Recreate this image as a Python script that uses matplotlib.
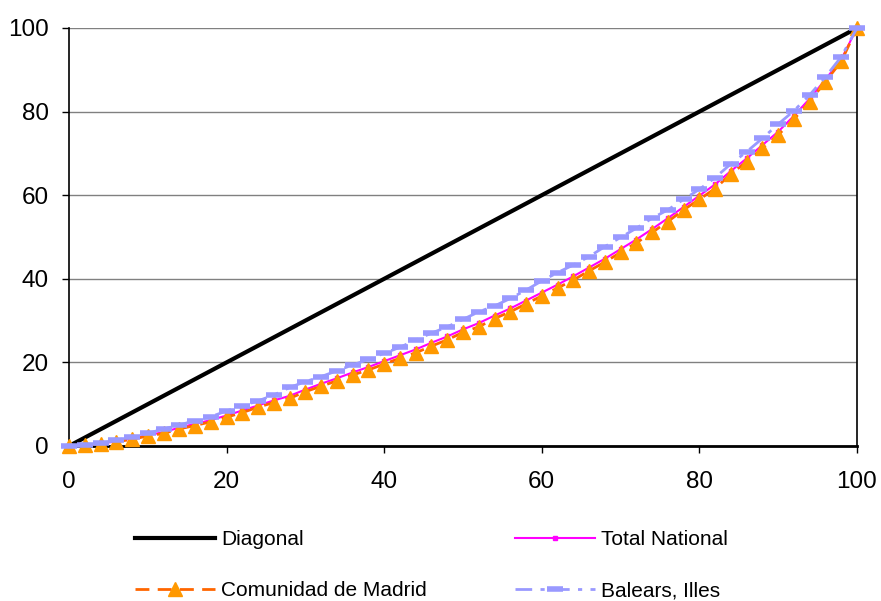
import matplotlib
matplotlib.use("Agg")
import matplotlib.pyplot as plt

plt.rcParams['font.family'] = ['Liberation Sans', 'DejaVu Sans']

# cumulative population share (%)
pct = [0, 2, 4, 6, 8, 10, 12, 14, 16, 18, 20, 22, 24, 26, 28, 30, 32, 34, 36, 38,
       40, 42, 44, 46, 48, 50, 52, 54, 56, 58, 60, 62, 64, 66, 68, 70, 72, 74, 76, 78,
       80, 82, 84, 86, 88, 90, 92, 94, 96, 98, 100]

diagonal = [0, 2, 4, 6, 8, 10, 12, 14, 16, 18, 20, 22, 24, 26, 28, 30, 32, 34, 36, 38,
            40, 42, 44, 46, 48, 50, 52, 54, 56, 58, 60, 62, 64, 66, 68, 70, 72, 74, 76, 78,
            80, 82, 84, 86, 88, 90, 92, 94, 96, 98, 100]

total_national = [0, 0.2, 0.6, 1.1, 1.8, 2.6, 3.3, 4.4, 5.3, 6.2, 7.3, 8.5, 9.7, 10.9, 12.0,
                  13.5, 14.9, 16.2, 17.6, 18.9, 20.3, 21.7, 23.1, 24.7, 26.2, 27.9, 29.4,
                  31.2, 32.9, 34.8, 36.7, 38.6, 40.6, 42.7, 44.8, 47.1, 49.4, 51.9, 54.5,
                  57.2, 59.9, 62.6, 65.8, 68.8, 72.0, 75.2, 79.0, 83.1, 87.7, 92.5, 100]

madrid = [0, 0.2, 0.5, 1.0, 1.6, 2.4, 3.0, 4.1, 4.9, 5.8, 6.9, 8.0, 9.3, 10.4, 11.4, 13.0,
          14.3, 15.6, 17.0, 18.2, 19.6, 21.0, 22.3, 23.9, 25.4, 27.2, 28.5, 30.5, 32.1,
          34.0, 35.9, 37.8, 39.7, 41.9, 44.0, 46.3, 48.6, 51.1, 53.7, 56.5, 59.0, 61.6,
          65.1, 68.0, 71.2, 74.4, 78.2, 82.4, 87.2, 92.0, 100]

balears = [0, 0.2, 0.6, 1.4, 2.1, 3.0, 4.1, 5.0, 6.1, 7.0, 8.4, 9.6, 10.8, 12.2, 14.0,
           15.4, 16.6, 18.0, 19.4, 20.7, 22.2, 23.6, 25.4, 27.0, 28.5, 30.3, 32.1, 33.5,
           35.3, 37.3, 39.5, 41.5, 43.3, 45.3, 47.7, 49.9, 52.1, 54.5, 56.5, 59.0, 61.4,
           64.2, 67.5, 70.4, 73.6, 77.0, 80.2, 84.0, 88.3, 93.1, 100]

fig = plt.figure(figsize=(8.81, 6.01), dpi=100)
ax = fig.add_axes([69 / 881, 155 / 601, 788 / 881, 418 / 601])

l_diag, = ax.plot(pct, diagonal, color='black', lw=3, label='Diagonal', zorder=3)
l_nat, = ax.plot(pct, total_national, color='#FF00FF', lw=1.5, marker='s', ms=3,
                 mec='#FF00FF', label='Total National', zorder=4, clip_on=False)
l_mad, = ax.plot(pct, madrid, color='#FF6600', lw=2, ls=(0, (5, 3)), marker='^', ms=10,
                 mfc='#FF9900', mec='#FF9900', label='Comunidad de Madrid', zorder=5,
                 clip_on=False)
l_bal, = ax.plot(pct, balears, color='#9999FF', lw=2, ls=(0, (6, 3, 1.5, 3)), marker='_',
                 ms=11.5, mew=4, mec='#9999FF', label='Balears, Illes', zorder=6,
                 clip_on=False)

ax.set_xlim(0, 100)
ax.set_ylim(0, 100)
ax.set_xticks([0, 20, 40, 60, 80, 100])
ax.set_yticks([0, 20, 40, 60, 80, 100])
ax.yaxis.grid(True, color='#808080', lw=1)
ax.set_axisbelow(True)
ax.tick_params(axis='both', labelsize=17.5, length=5, width=1, direction='out')
ax.tick_params(axis='x', pad=13)
ax.tick_params(axis='y', pad=9.5)
ax.spines['top'].set_visible(False)
for s in ['left', 'bottom', 'right']:
    ax.spines[s].set_color('black')
    ax.spines[s].set_linewidth(1.2)
ax.spines['bottom'].set_linewidth(2)

fig.legend(handles=[l_diag, l_mad, l_nat, l_bal], ncol=2, loc='center left',
           bbox_to_anchor=(135 / 881, 0.0600), frameon=False, fontsize=15,
           handlelength=3.85, handletextpad=0.3, columnspacing=4.2,
           labelspacing=1.55, borderpad=0, borderaxespad=0)

fig.savefig('out.png', dpi=100)
